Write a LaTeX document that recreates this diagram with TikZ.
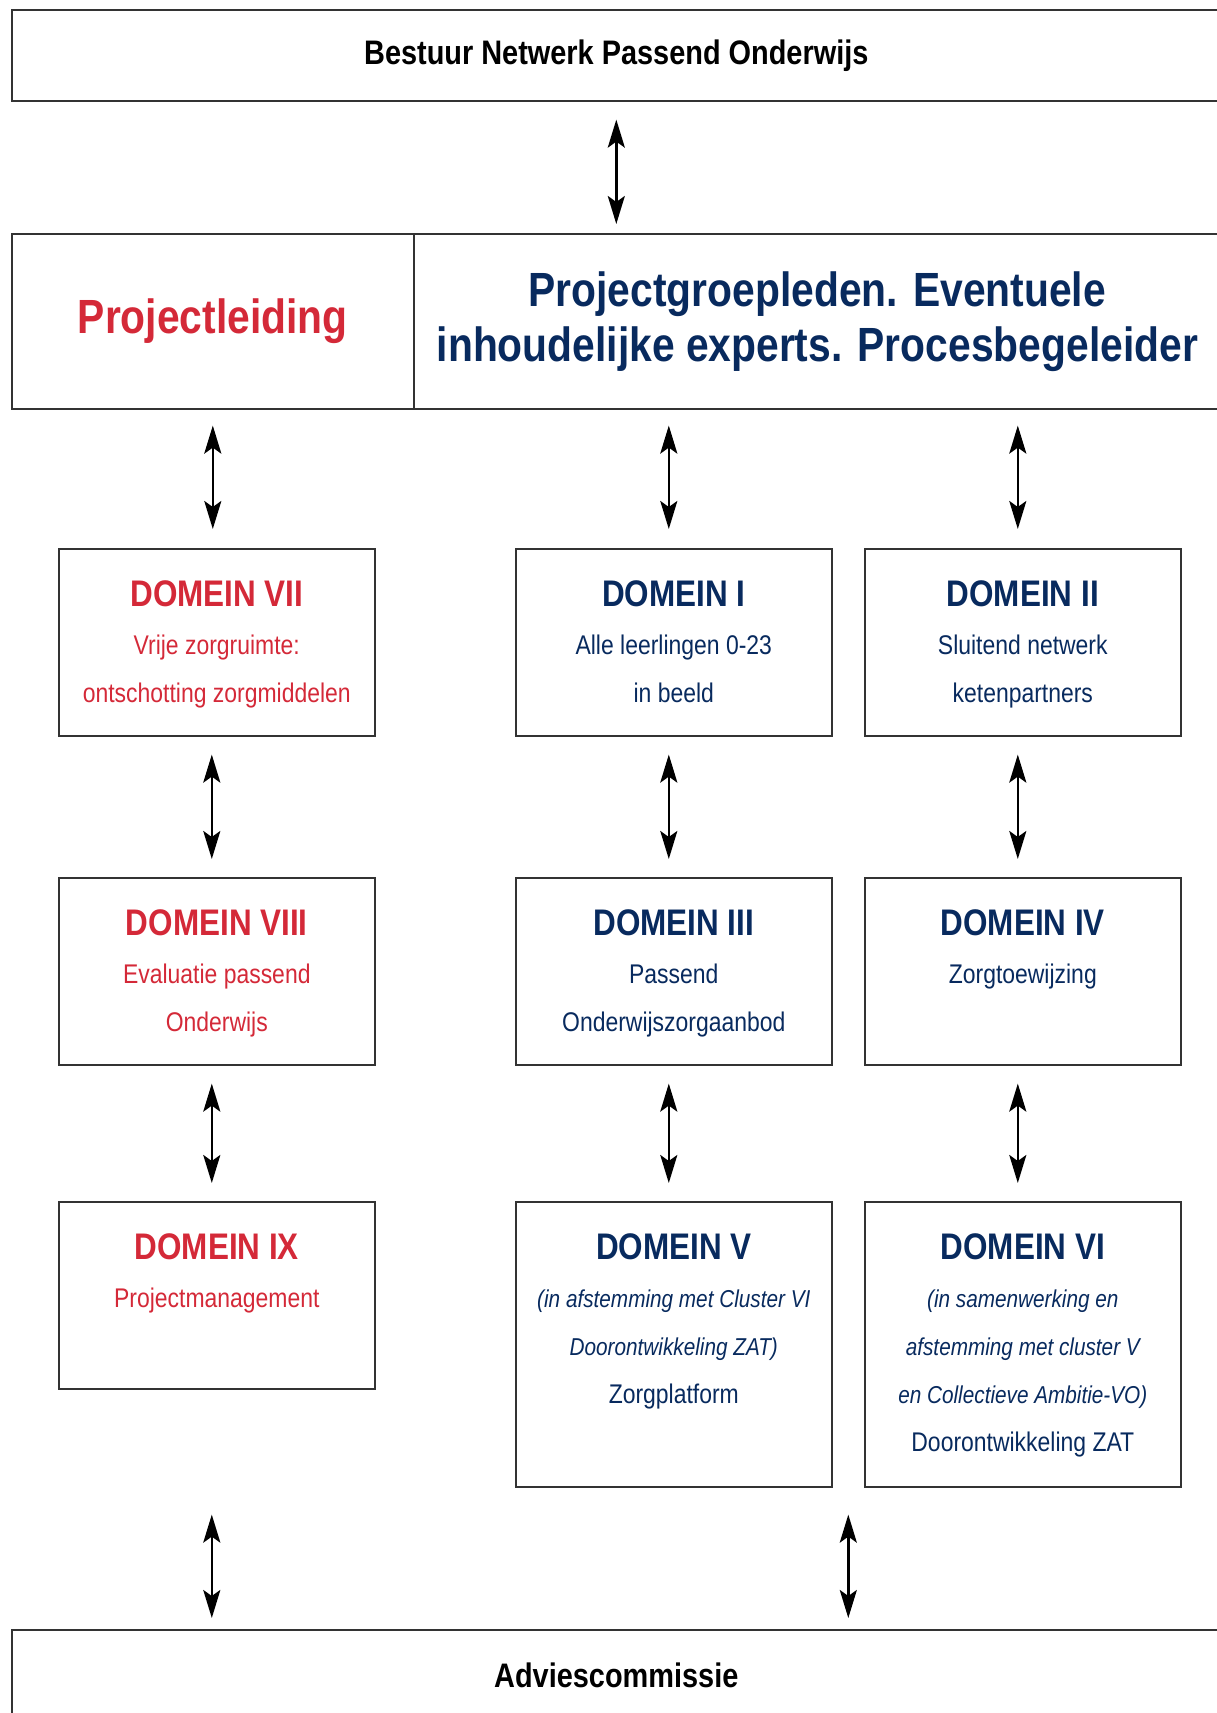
\documentclass[tikz,border=0pt]{standalone}
\usepackage{fontspec}
\setmainfont{Liberation Sans}[FakeStretch=0.85]
\usetikzlibrary{arrows.meta}
\usetikzlibrary{calc}
\definecolor{rood}{RGB}{212,41,56}
\definecolor{blauw}{RGB}{8,42,94}
\newcommand{\kop}[1]{{\fontsize{18.5}{24}\selectfont\bfseries #1}}
\newcommand{\schuin}[1]{{\fontsize{12.2}{24}\selectfont\itshape #1}}
\tikzset{%
  pijl/.style = {{Stealth[length=14pt,width=8.5pt,inset=3pt]}-{Stealth[length=14pt,width=8.5pt,inset=3pt]},
        line width=1.3pt},
  vak/.style = {rectangle,draw=black!80,line width=.8pt,anchor=north west,
        inner sep=0pt},
  domein/.style = {vak,minimum width=158pt,minimum height=93.5pt},
  hoog/.style = {minimum height=142.5pt},
  tekst/.style = {anchor=north,inner sep=0pt,yshift=-16pt,align=center,
        font=\fontsize{13.5}{24}\selectfont},
  titel/.style = {font=\fontsize{17}{20}\selectfont\bfseries}
}

\begin{document}
\begin{tikzpicture}[x=0.5pt,y=-0.5pt]
    \useasboundingbox (0,0) rectangle (1216,1713);
    % bovenste lagen
    \node[vak,titel,minimum width=604.5pt,minimum height=45.5pt] (bestuur)
        at (11,9) {Bestuur Netwerk Passend Onderwijs};
    \node[vak,minimum width=201pt,minimum height=87.5pt,text=rood,
        font=\fontsize{24}{27.5}\selectfont\bfseries] (leiding)
        at (11,233) {Projectleiding};
    \node[vak,minimum width=403.5pt,minimum height=87.5pt,text=blauw,align=center,
        font=\fontsize{24}{27.5}\selectfont\bfseries] (groep)
        at (413,233) {Projectgroepleden. Eventuele\\inhoudelijke experts. Procesbegeleider};
    % domeinen
    \node[domein,label={[tekst,rood]north:{\kop{DOMEIN VII}\\Vrije zorgruimte:\\ontschotting zorgmiddelen}}]
        (d7) at (58,548) {};
    \node[domein,label={[tekst,blauw]north:{\kop{DOMEIN I}\\Alle leerlingen 0-23\\in beeld}}]
        (d1) at (515,548) {};
    \node[domein,label={[tekst,blauw]north:{\kop{DOMEIN II}\\Sluitend netwerk\\ketenpartners}}]
        (d2) at (864,548) {};
    \node[domein,label={[tekst,rood]north:{\kop{DOMEIN VIII}\\Evaluatie passend\\Onderwijs}}]
        (d8) at (58,877) {};
    \node[domein,label={[tekst,blauw]north:{\kop{DOMEIN III}\\Passend\\Onderwijszorgaanbod}}]
        (d3) at (515,877) {};
    \node[domein,label={[tekst,blauw]north:{\kop{DOMEIN IV}\\Zorgtoewijzing}}]
        (d4) at (864,877) {};
    \node[domein,label={[tekst,rood]north:{\kop{DOMEIN IX}\\Projectmanagement}}]
        (d9) at (58,1201) {};
    \node[domein,hoog,label={[tekst,blauw]north:{\kop{DOMEIN V}\\\schuin{(in afstemming met Cluster VI}\\
        \schuin{Doorontwikkeling ZAT)}\\Zorgplatform}}]
        (d5) at (515,1201) {};
    \node[domein,hoog,label={[tekst,blauw]north:{\kop{DOMEIN VI}\\\schuin{(in samenwerking en}\\
        \schuin{afstemming met cluster V}\\\schuin{en Collectieve Ambitie-VO)}\\Doorontwikkeling ZAT}}]
        (d6) at (864,1201) {};
    % onderste laag
    \node[vak,titel,minimum width=604.5pt,minimum height=45.5pt] (advies)
        at (11,1629) {Adviescommissie};
    % pijlen
    \draw[pijl] ([yshift=-9pt]bestuur.south) -- ([yshift=4.5pt]bestuur.south |- groep.north);
    \draw[pijl] ([yshift=-8pt]leiding.south) -- ([yshift=9.5pt]leiding.south |- d7.north);
    \foreach \v in {d1,d2}
        \draw[pijl] ([xshift=-2.5pt,yshift=-8pt]\v.north |- groep.south) -- ([xshift=-2.5pt,yshift=9.5pt]\v.north);
    \foreach \a/\b in {d7/d8,d8/d9,d1/d3,d3/d5,d2/d4,d4/d6}
        \draw[pijl] ([xshift=-2.5pt,yshift=-9pt]\a.south) -- ([xshift=-2.5pt,yshift=9pt]\b.north);
    \coordinate (tussen) at ($(d5.south east)!0.5!(d6.south west)$);
    \draw[pijl] ([yshift=-13.5pt]tussen) -- ([yshift=5.5pt]tussen |- advies.north);
    \draw[pijl] ([xshift=-2.5pt,yshift=-13.5pt]d9.south |- tussen) -- ([xshift=-2.5pt,yshift=5.5pt]d9.south |- advies.north);
\end{tikzpicture}
\end{document}
